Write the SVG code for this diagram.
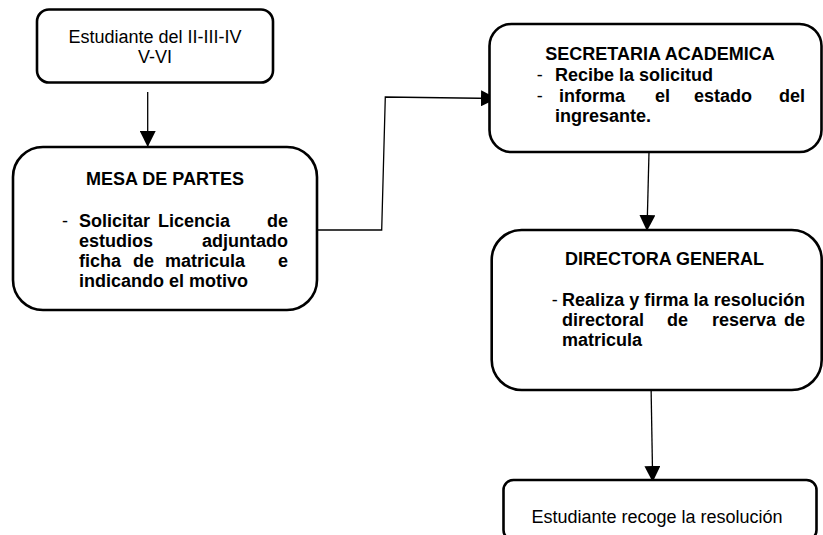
<svg xmlns="http://www.w3.org/2000/svg" width="823" height="535" viewBox="0 0 823 535">
<style>
.box{fill:#fff;stroke:#000;stroke-width:2.6}
.t{font-family:"Liberation Sans",Arial,sans-serif;font-size:18px;fill:#000}
.b{font-weight:bold}
.m{text-anchor:middle}
.e{text-anchor:end}
.c{fill:none;stroke:#000;stroke-width:1.3}
</style>
<defs>
<marker id="ah" markerUnits="userSpaceOnUse" markerWidth="16" markerHeight="16" viewBox="0 0 16 16" refX="16" refY="8" orient="auto">
<path d="M0,0 L16,8 L0,16 Z" fill="#000"/>
</marker>
</defs>
<rect width="823" height="535" fill="#fff"/>
<g id="connectors">
<path class="c" d="M147.7,92 L147.7,147" marker-end="url(#ah)"/>
<path class="c" d="M314,230 L381.7,230 L385.3,97 L497,98.5" marker-end="url(#ah)"/>
<path class="c" d="M649,152 L647,231" marker-end="url(#ah)"/>
<path class="c" d="M651,383 L652.7,482" marker-end="url(#ah)"/>
</g>
<g id="n1">
<rect class="box" x="37" y="9.5" width="236" height="73" rx="12"/>
<text class="t m" x="155" y="43">Estudiante del II-III-IV</text>
<text class="t m" x="155" y="63">V-VI</text>
</g>
<g id="n2">
<rect class="box" x="13" y="147" width="304" height="163" rx="30"/>
<text class="t b m" x="165" y="185">MESA DE PARTES</text>
<text class="t" x="62" y="227">-</text>
<text class="t b" y="227"><tspan x="79">Solicitar</tspan><tspan x="158">Licencia</tspan></text>
<text class="t b e" x="288" y="227">de</text>
<text class="t b" x="79" y="247">estudios</text>
<text class="t b e" x="288" y="247">adjuntado</text>
<text class="t b" y="267"><tspan x="79">ficha</tspan><tspan x="133">de</tspan><tspan x="165">matricula</tspan></text>
<text class="t b e" x="288" y="267">e</text>
<text class="t b" x="79" y="287">indicando el motivo</text>
</g>
<g id="n3">
<rect class="box" x="489.5" y="24" width="332" height="128" rx="22"/>
<text class="t b m" x="660" y="60">SECRETARIA ACADEMICA</text>
<text class="t" x="536.7" y="80.7">-</text>
<text class="t b" x="555" y="80.7">Recibe la solicitud</text>
<text class="t" x="536.7" y="101.7">-</text>
<text class="t b" y="101.7"><tspan x="559">informa</tspan><tspan x="655">el</tspan><tspan x="694">estado</tspan></text>
<text class="t b e" x="805" y="101.7">del</text>
<text class="t b" x="555" y="121.7">ingresante.</text>
</g>
<g id="n4">
<rect class="box" x="491.7" y="230" width="330" height="160" rx="30"/>
<text class="t b m" x="664.5" y="265">DIRECTORA GENERAL</text>
<text class="t" x="551.7" y="306">-</text>
<text class="t b" x="562" y="306" textLength="243" lengthAdjust="spacing">Realiza y firma la resolución</text>
<text class="t b" y="326"><tspan x="562">directoral</tspan><tspan x="667">de</tspan><tspan x="712">reserva</tspan></text>
<text class="t b e" x="805" y="326">de</text>
<text class="t b" x="562" y="346">matricula</text>
</g>
<g id="n5">
<rect class="box" x="503.5" y="480" width="313" height="60" rx="10"/>
<text class="t m" x="657" y="523">Estudiante recoge la resolución</text>
</g>
</svg>
